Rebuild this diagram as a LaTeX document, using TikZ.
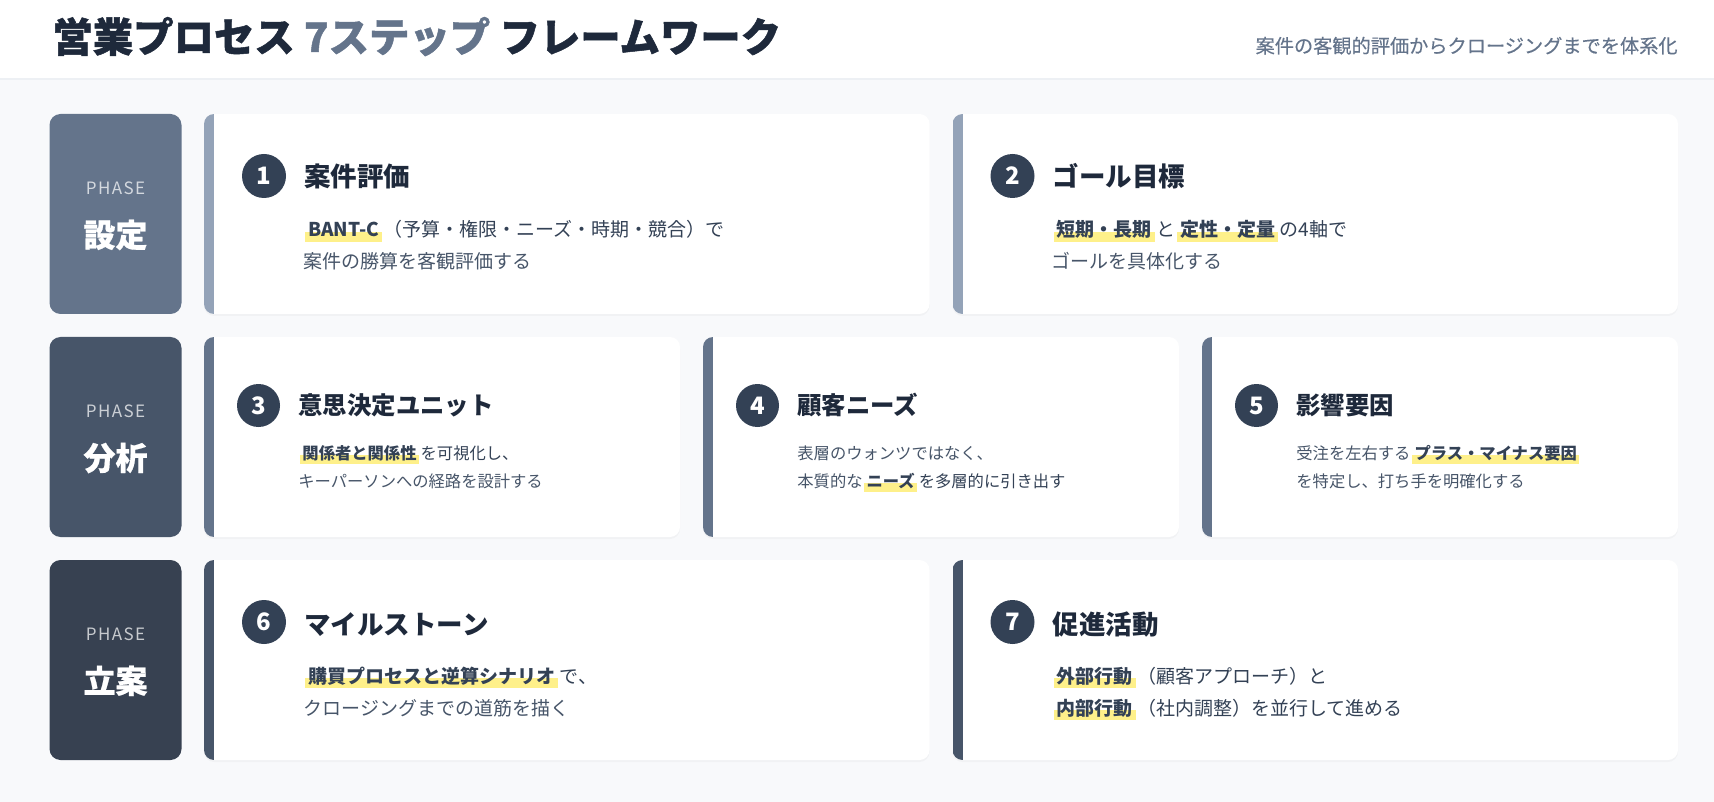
\documentclass[tikz,border=0pt]{standalone}
\usepackage{fontspec}
\setmainfont{Noto Sans CJK JP}
\usetikzlibrary{shadows}
\definecolor{bgcol}{HTML}{F8F9FB}
\definecolor{hdline}{HTML}{EDF0F4}
\definecolor{sl800}{HTML}{1E293B}
\definecolor{sl700}{HTML}{334155}
\definecolor{sl650}{HTML}{374151}
\definecolor{sl600}{HTML}{475569}
\definecolor{sl500}{HTML}{64748B}
\definecolor{sl400}{HTML}{94A3B8}
\definecolor{hly}{HTML}{FEF08A}
\newcommand{\hlmark}[1]{\hspace{0.1em}\setbox0=\hbox{\hspace{0.15em}\bfseries\color{sl700}#1\hspace{0.15em}}\rlap{\color{hly}\rule[-0.28em]{\wd0}{0.55em}}\box0\hspace{0.1em}}
\newcommand{\stepcard}[5]{%
  \node[card, minimum width=#4, anchor=north west] (#1) at (#2,#3) {};
  \begin{scope}
    \clip[rounded corners=5pt] (#1.north west) rectangle (#1.south east);
    \fill[#5] (#1.north west) rectangle ([xshift=5pt]#1.south west);
  \end{scope}}
\tikzset{
  card/.style={fill=white, rounded corners=5pt, minimum height=100pt, inner sep=0pt, outer sep=0pt,
    drop shadow={opacity=0.05, shadow xshift=0pt, shadow yshift=-1pt}},
  phasebox/.style={rounded corners=5.5pt, minimum width=66pt, minimum height=100pt, inner sep=0pt, outer sep=0pt, anchor=north west},
  phaseword/.style={text=white, text opacity=0.72, inner sep=0pt, anchor=base, font=\fontsize{8.5pt}{10pt}\selectfont\addfontfeature{LetterSpace=8}},
  phaselabel/.style={text=white, inner sep=0pt, anchor=base, font=\fontsize{16pt}{18pt}\selectfont\bfseries\addfontfeature{FakeBold=0.6}},
  stepnum/.style={circle, fill=sl700, text=white, minimum size=22pt, inner sep=0pt, font=\fontsize{12pt}{12pt}\selectfont\bfseries},
  stepnumS/.style={stepnum, minimum size=21.5pt},
  steptitle/.style={anchor=base west, inner sep=0pt, text=sl800, font=\fontsize{13.25pt}{15pt}\selectfont\bfseries},
  steptitleS/.style={steptitle, font=\fontsize{12.2pt}{14pt}\selectfont\bfseries},
  body/.style={anchor=base west, inner sep=0pt, text=sl600, font=\fontsize{9.5pt}{12pt}\selectfont},
  bodyS/.style={body, font=\fontsize{8.15pt}{10pt}\selectfont},
}
\begin{document}
\begin{tikzpicture}[x=0.5pt, y=-0.5pt]
\useasboundingbox (0,0) rectangle (1714,802);
\fill[bgcol] (0,0) rectangle (1714,802);
% header
\fill[white] (0,0) rectangle (1714,79);
\draw[hdline, line width=1pt] (0,79.5) -- (1714,79.5);
\node[anchor=base west, inner sep=0pt, text=sl800, font=\fontsize{20.2pt}{22pt}\selectfont\bfseries\addfontfeature{FakeBold=1.2}] (title) at (52,52)
  {営業プロセス {\color{sl500}7ステップ} フレームワーク};
\node[anchor=base east, inner sep=0pt, text=sl500, font=\fontsize{9.6pt}{11pt}\selectfont\addfontfeature{FakeBold=0.3}] (subtitle) at (1678,53)
  {案件の客観的評価からクロージングまでを体系化};

% phase boxes
\node[phasebox, fill=sl500] (phase1) at (49.5,114) {};
\node[phasebox, fill=sl600] (phase2) at (49.5,337) {};
\node[phasebox, fill=sl650] (phase3) at (49.5,560) {};
\node[phaseword] (pw1) at (115.5,194.6) {PHASE};
\node[phaselabel] (pl1) at (115.5,247) {設定};
\node[phaseword] (pw2) at (115.5,417.6) {PHASE};
\node[phaselabel] (pl2) at (115.5,470) {分析};
\node[phaseword] (pw3) at (115.5,640.6) {PHASE};
\node[phaselabel] (pl3) at (115.5,693) {立案};

% cards
\stepcard{card1}{204}{114}{362.75pt}{sl400}
\stepcard{card2}{952.5}{114}{362.75pt}{sl400}
\stepcard{card3}{204}{337}{238pt}{sl500}
\stepcard{card4}{703}{337}{238pt}{sl500}
\stepcard{card5}{1202}{337}{238pt}{sl500}
\stepcard{card6}{204}{560}{362.75pt}{sl600}
\stepcard{card7}{952.5}{560}{362.75pt}{sl600}

% card 1
\node[stepnum] (n1) at (264,176) {1};
\node[steptitle] (t1) at (304,187) {案件評価};
\node[body] (b1a) at (303,237) {\hlmark{BANT-C}（予算・権限・ニーズ・時期・競合）で};
\node[body] (b1b) at (303,269) {案件の勝算を客観評価する};
% card 2
\node[stepnum] (n2) at (1012.5,176) {2};
\node[steptitle] (t2) at (1052.5,187) {ゴール目標};
\node[body] (b2a) at (1051.5,237) {\hlmark{短期・長期}と\hlmark{定性・定量}の4軸で};
\node[body] (b2b) at (1051.5,269) {ゴールを具体化する};
% card 3
\node[stepnumS] (n3) at (258.5,405.5) {3};
\node[steptitleS] (t3) at (298,415) {意思決定ユニット};
\node[bodyS] (b3a) at (298,459) {\hlmark{関係者と関係性}を可視化し、};
\node[bodyS] (b3b) at (298,487) {キーパーソンへの経路を設計する};
% card 4
\node[stepnumS] (n4) at (757.5,405.5) {4};
\node[steptitleS] (t4) at (797,415) {顧客ニーズ};
\node[bodyS] (b4a) at (797,459) {表層のウォンツではなく、};
\node[bodyS] (b4b) at (797,487) {本質的な\hlmark{ニーズ}を多層的に引き出す};
% card 5
\node[stepnumS] (n5) at (1256.5,405.5) {5};
\node[steptitleS] (t5) at (1296,415) {影響要因};
\node[bodyS] (b5a) at (1296,459) {受注を左右する\hlmark{プラス・マイナス要因}};
\node[bodyS] (b5b) at (1296,487) {を特定し、打ち手を明確化する};
% card 6
\node[stepnum] (n6) at (264,622) {6};
\node[steptitle] (t6) at (304,634) {マイルストーン};
\node[body] (b6a) at (303,683) {\hlmark{購買プロセスと逆算シナリオ}で、};
\node[body] (b6b) at (303,715) {クロージングまでの道筋を描く};
% card 7
\node[stepnum] (n7) at (1012.5,622) {7};
\node[steptitle] (t7) at (1052.5,634) {促進活動};
\node[body] (b7a) at (1051.5,683) {\hlmark{外部行動}（顧客アプローチ）と};
\node[body] (b7b) at (1051.5,715) {\hlmark{内部行動}（社内調整）を並行して進める};
\end{tikzpicture}
\end{document}
